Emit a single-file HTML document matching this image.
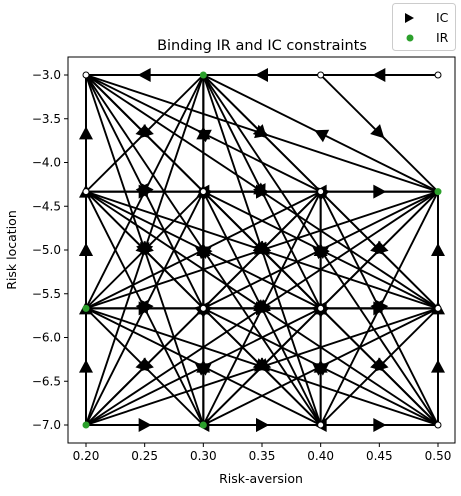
<!DOCTYPE html>
<html><head><meta charset="utf-8"><style>
body{margin:0;background:#fff;font-family:"Liberation Sans","DejaVu Sans",sans-serif;}
svg text{font-family:"DejaVu Sans","Liberation Sans",sans-serif;}
</style></head><body>
<svg id="c" width="461" height="491" xmlns="http://www.w3.org/2000/svg"></svg>
<script>
const nodeX=[0.2,0.3,0.4,0.5];
const nodeY=[-3.0,-4.333,-5.667,-7.0];
const irNodes=[[1,0],[3,1],[0,2],[0,3],[1,3]];
const xTicks=[0.20,0.25,0.30,0.35,0.40,0.45,0.50];
const yTicks=[-3.0,-3.5,-4.0,-4.5,-5.0,-5.5,-6.0,-6.5,-7.0];
const topEdgesFrom=[[3,0],[2,0],[1,0],[2,0]];
const topEdgesTo=[[2,0],[1,0],[0,0],[3,1]];
const L=68,T=57,R=455,B=443;
const sx=v=>86+(v-0.2)/0.3*352;
const sy=v=>75+(v+3)/(-4)*350;
const svg=document.getElementById('c');
const NS='http://www.w3.org/2000/svg';
function mk(t,a,p){const e=document.createElementNS(NS,t);for(const k in a)e.setAttribute(k,a[k]);(p||svg).appendChild(e);return e;}
mk('rect',{x:0,y:0,width:461,height:491,fill:'#fff'});
const g=mk('g',{});


function edge(a,b){
 const x1=sx(nodeX[a[0]]),y1=sy(nodeY[a[1]]),x2=sx(nodeX[b[0]]),y2=sy(nodeY[b[1]]);
 const l=mk('line',{x1,y1,x2,y2,stroke:'#000','stroke-width':1.9},g);
 
 
 const mx=(x1+x2)/2,my=(y1+y2)/2,ang=Math.atan2(y2-y1,x2-x1)*180/Math.PI;
 const p=mk('polygon',{points:'7,0 -6,-7 -6,7',fill:'#000',transform:`translate(${mx},${my}) rotate(${ang})`},g);
 
 
}
for(let k=0;k<topEdgesFrom.length;k++)edge(topEdgesFrom[k],topEdgesTo[k]);
const nodes=[];
for(let j=0;j<4;j++)for(let i=0;i<4;i++){if(j==0&&i>=2)continue;nodes.push([i,j]);}
for(let a=0;a<nodes.length;a++)for(let b=a+1;b<nodes.length;b++){
 if(nodes[a][1]==0&&nodes[b][1]==0)continue;
 if((a+b)%2)edge(nodes[a],nodes[b]);else edge(nodes[b],nodes[a]);
}
for(let j=0;j<4;j++)for(let i=0;i<4;i++){
 const ir=irNodes.some(n=>n[0]==i&&n[1]==j);
 const c=mk('circle',{cx:sx(nodeX[i]),cy:sy(nodeY[j]),r:3,fill:ir?'#2ca02c':'#fff',stroke:ir?'#2ca02c':'#000','stroke-width':1});
 
 
}
const ax=mk('rect',{x:L,y:T,width:R-L,height:B-T,fill:'none',stroke:'#000','stroke-width':1});


xTicks.forEach(v=>{const x=sx(v);mk('line',{x1:x,y1:B,x2:x,y2:B+4,stroke:'#000'});
 const t=mk('text',{x:x,y:B+17,'text-anchor':'middle','font-size':12});t.textContent=v.toFixed(2);
 });
yTicks.forEach(v=>{const y=sy(v);mk('line',{x1:L-4,y1:y,x2:L,y2:y,stroke:'#000'});
 const t=mk('text',{x:L-7,y:y+4,'text-anchor':'end','font-size':12});t.textContent='\u2212'+Math.abs(v).toFixed(1);
 });
</script>
<svg width="461" height="491" style="position:absolute;left:0;top:0" xmlns="http://www.w3.org/2000/svg">
<text x="262" y="50" text-anchor="middle" font-size="14.5">Binding IR and IC constraints</text>
<text x="261" y="483" text-anchor="middle" font-size="12.5">Risk-aversion</text>
<text x="16" y="250" text-anchor="middle" font-size="12.5" transform="rotate(-90 16 250)">Risk location</text>
<g>
<rect x="392.5" y="3.5" width="63" height="47" rx="3" fill="#fff" stroke="#ccc"/>
<polygon points="405,13 405,23 414,18" fill="#000"/>
<text x="436" y="22" font-size="12.5">IC</text>
<circle cx="410" cy="38" r="3.5" fill="#2ca02c"/>
<text x="436" y="42" font-size="12.5">IR</text>
</g>
</svg>
</body></html>
